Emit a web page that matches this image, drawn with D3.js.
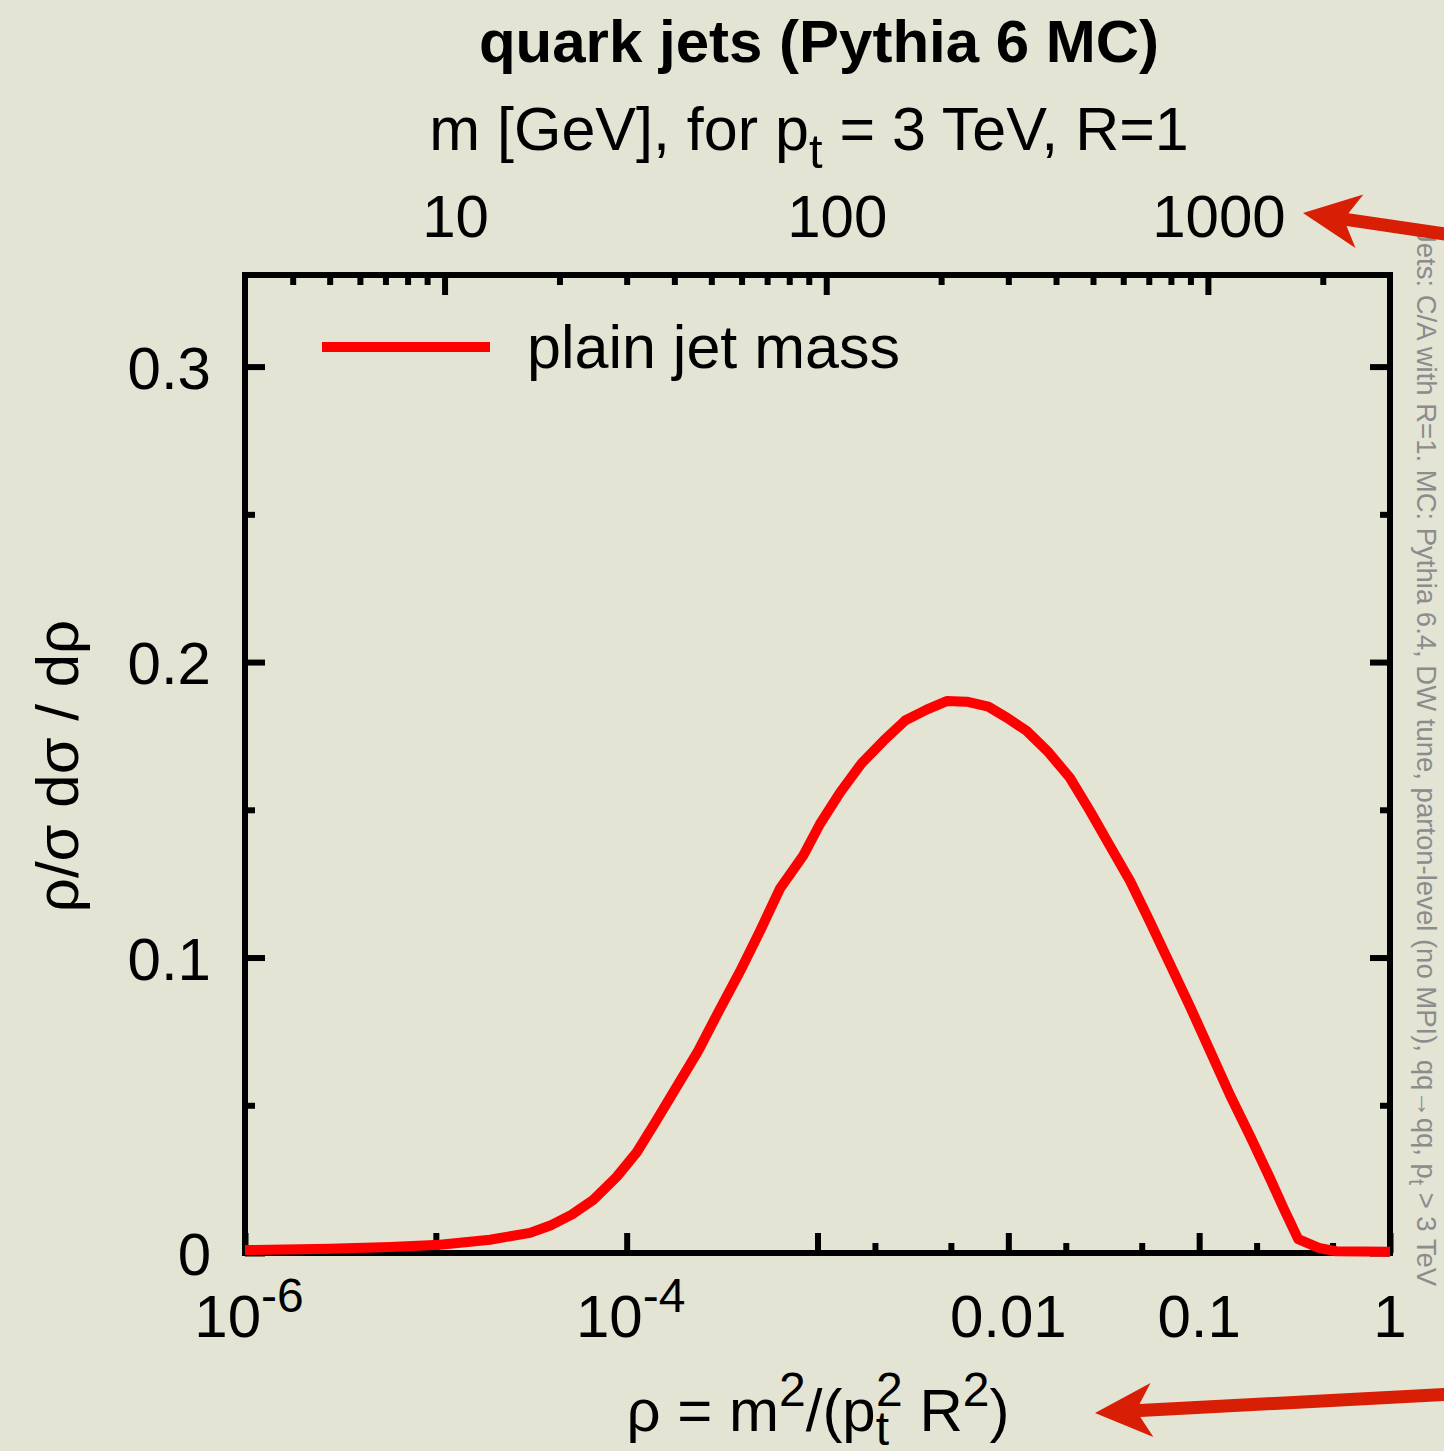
<!DOCTYPE html>
<html>
<head>
<meta charset="utf-8">
<script src="https://cdn.jsdelivr.net/npm/d3@7"></script>
<style>
  body { margin: 0; background: #e3e4d4; }
  svg { display: block; font-family: "Liberation Sans", Arial, sans-serif; }
</style>
</head>
<body>
<script>
// curve: log10(rho) of each point and rho/sigma dsigma/drho
const logRho = [
  -6.0, -5.555, -5.24, -4.978, -4.716, -4.507, -4.393, -4.288, -4.175, -4.052,
  -3.947, -3.851, -3.747, -3.625, -3.52, -3.406, -3.301, -3.196, -3.074, -2.987,
  -2.882, -2.768, -2.655, -2.541, -2.428, -2.323, -2.218, -2.105, -2.008, -1.904,
  -1.79, -1.677, -1.572, -1.467, -1.362, -1.258, -1.153, -1.048, -0.943, -0.838,
  -0.734, -0.629, -0.559, -0.481, -0.367, -0.281, 0.0
]
const rhoDist = [
  0.0010, 0.0014, 0.0020, 0.0028, 0.0045, 0.0068, 0.0095, 0.0130, 0.0180, 0.0258,
  0.0341, 0.0441, 0.0553, 0.0684, 0.0815, 0.0953, 0.1090, 0.1234, 0.1346, 0.1452,
  0.1558, 0.1658, 0.1733, 0.1802, 0.1839, 0.1868, 0.1866, 0.1849, 0.1812, 0.1767,
  0.1695, 0.1608, 0.1496, 0.1377, 0.1259, 0.1121, 0.0978, 0.0834, 0.0684, 0.0534,
  0.0397, 0.0253, 0.0153, 0.0047, 0.0016, 0.0006, 0.0004
]

// bottom axis (rho)
const rhoMajorTicks = [1e-6, 1e-5, 1e-4, 1e-3, 1e-2, 1e-1, 1]
const rhoMinorTicks = [2e-3, 5e-3, 2e-2, 5e-2, 0.2, 0.5]
const rhoLabelValues = [1e-6, 1e-4, 1e-2, 1e-1, 1]
const rhoLabelTexts = ["10^-6", "10^-4", "0.01", "0.1", "1"]

// top axis (m in GeV, pt = 3 TeV, R = 1)
const ptR = 3000
const mMajorTicks = [10, 100, 1000]
const mMinorTicks = [4, 5, 6, 7, 8, 9, 20, 30, 40, 50, 60, 70, 80, 90,
  200, 300, 400, 500, 600, 700, 800, 900, 2000]
const mLabelTexts = ["10", "100", "1000"]

// y axis
const yMajorTicks = [0, 0.1, 0.2, 0.3]
const yMinorTicks = [0.05, 0.15, 0.25]
const yLabelTexts = ["0", "0.1", "0.2", "0.3"]

const legendLabel = "plain jet mass"
const sideNote = "Jets: C/A with R=1. MC: Pythia 6.4, DW tune, parton-level (no MPI), qq\u2192qq, p_t > 3 TeV"

// layout
const W = 1444, H = 1451
const pLeft = 245, pRight = 1390, pTop = 275, pBottom = 1253
const fs = 60
const arrowColor = "#d81e05"

const svg = d3.select("body").append("svg")
  .attr("width", W)
  .attr("height", H)

svg.append("rect")
  .attr("width", W)
  .attr("height", H)
  .attr("fill", "#e3e4d4")

// scales
const x = d3.scaleLog().domain([1e-6, 1]).range([pLeft, pRight])
const xTop = d3.scaleLog().domain([Math.sqrt(1e-6) * ptR, ptR]).range([pLeft, pRight])
const y = d3.scaleLinear().domain([0, 0.331]).range([pBottom, pTop])

// ticks, drawn inwards
const tickAxis = (axis, tr, size) => {
  const g = svg.append("g")
    .attr("transform", tr)
    .call(axis.tickSize(size).tickSizeOuter(0).tickFormat(""))
  g.select(".domain").remove()
  g.selectAll("line").attr("stroke", "black").attr("stroke-width", 6)
  return g
}
tickAxis(d3.axisBottom(x).tickValues(rhoMajorTicks), `translate(0,${pBottom})`, -20)
tickAxis(d3.axisBottom(x).tickValues(rhoMinorTicks), `translate(0,${pBottom})`, -10)
tickAxis(d3.axisTop(xTop).tickValues(mMajorTicks), `translate(0,${pTop})`, -20)
tickAxis(d3.axisTop(xTop).tickValues(mMinorTicks), `translate(0,${pTop})`, -10)
tickAxis(d3.axisLeft(y).tickValues(yMajorTicks), `translate(${pLeft},0)`, -20)
tickAxis(d3.axisLeft(y).tickValues(yMinorTicks), `translate(${pLeft},0)`, -10)
tickAxis(d3.axisRight(y).tickValues(yMajorTicks), `translate(${pRight},0)`, -20)
tickAxis(d3.axisRight(y).tickValues(yMinorTicks), `translate(${pRight},0)`, -10)

// frame
svg.append("rect")
  .attr("x", pLeft)
  .attr("y", pTop)
  .attr("width", pRight - pLeft)
  .attr("height", pBottom - pTop)
  .attr("fill", "none")
  .attr("stroke", "black")
  .attr("stroke-width", 6)

// text with ^sup and _sub parts
const richText = (sel, str, size) => {
  const parts = str.split(/([\^_][^ )\/]+)/).filter(s => s !== "")
  let shift = 0
  parts.forEach(p => {
    let target = 0, t = p, small = false
    if (p[0] === "^") { target = -0.42 * size; t = p.slice(1); small = true }
    if (p[0] === "_") { target = 0.3 * size; t = p.slice(1); small = true }
    sel.append("tspan")
      .attr("dy", target - shift)
      .style("font-size", small ? size * 0.8 + "px" : null)
      .text(t)
    shift = target
  })
}

// bottom tick labels
rhoLabelValues.forEach((v, i) => {
  const t = svg.append("text")
    .attr("x", x(v) + (i < 2 ? 4 : 0))
    .attr("y", 1337)
    .attr("text-anchor", "middle")
    .style("font-size", fs + "px")
  richText(t, rhoLabelTexts[i], fs)
})

// top tick labels
mMajorTicks.forEach((v, i) => {
  svg.append("text")
    .attr("x", xTop(v) + 11)
    .attr("y", 237)
    .attr("text-anchor", "middle")
    .style("font-size", fs + "px")
    .text(mLabelTexts[i])
})

// y tick labels
yMajorTicks.forEach((v, i) => {
  svg.append("text")
    .attr("x", 211)
    .attr("y", y(v) + 22)
    .attr("text-anchor", "end")
    .style("font-size", fs + "px")
    .text(yLabelTexts[i])
})

// title and axis labels
svg.append("text")
  .attr("x", 819)
  .attr("y", 62)
  .attr("text-anchor", "middle")
  .style("font-size", fs + "px")
  .style("font-weight", "bold")
  .text("quark jets (Pythia 6 MC)")

const topLabel = svg.append("text")
  .attr("x", 809)
  .attr("y", 150)
  .attr("text-anchor", "middle")
  .style("font-size", "61px")
richText(topLabel, "m [GeV], for p_t = 3 TeV, R=1", 61)

svg.append("text")
  .attr("transform", "translate(78,766) rotate(-90)")
  .attr("text-anchor", "middle")
  .style("font-size", fs + "px")
  .text("\u03c1/\u03c3 d\u03c3 / d\u03c1")

// x label: rho = m^2/(p_t^2 R^2), with 2 stacked over t
const xLabel = svg.append("text")
  .attr("x", 818)
  .attr("y", 1431)
  .attr("text-anchor", "middle")
  .style("font-size", fs + "px")
xLabel.append("tspan").text("\u03c1 = m")
xLabel.append("tspan").attr("dy", -0.42 * fs).style("font-size", fs * 0.8 + "px").text("2")
xLabel.append("tspan").attr("dy", 0.42 * fs).text("/(p")
xLabel.append("tspan").attr("dy", 0.24 * fs).style("font-size", fs * 0.8 + "px").text("t")
xLabel.append("tspan").attr("dx", -13).attr("dy", -0.66 * fs).style("font-size", fs * 0.8 + "px").text("2")
xLabel.append("tspan").attr("dy", 0.42 * fs).text(" R")
xLabel.append("tspan").attr("dy", -0.42 * fs).style("font-size", fs * 0.8 + "px").text("2")
xLabel.append("tspan").attr("dy", 0.42 * fs).text(")")

// legend
svg.append("line")
  .attr("x1", 322)
  .attr("x2", 490)
  .attr("y1", 347)
  .attr("y2", 347)
  .attr("stroke", "red")
  .attr("stroke-width", 10)
svg.append("text")
  .attr("x", 527)
  .attr("y", 368)
  .style("font-size", "61px")
  .text(legendLabel)

// the curve
const pts = logRho.map((l, i) => [Math.pow(10, l), rhoDist[i]])
svg.append("path")
  .datum(pts)
  .attr("d", d3.line().x(d => x(d[0])).y(d => y(d[1])))
  .attr("fill", "none")
  .attr("stroke", "red")
  .attr("stroke-width", 10)
  .attr("stroke-linejoin", "round")

// side note
const noteFs = 27.5
const note = svg.append("text")
  .attr("transform", "translate(1417,229) rotate(90)")
  .style("font-size", noteFs + "px")
  .attr("fill", "#8c8c8c")
richText(note, sideNote, noteFs)

// annotation arrows
const arrow = (tip, tail) => {
  const dx = tail[0] - tip[0], dy = tail[1] - tip[1]
  const len = Math.hypot(dx, dy)
  const u = [dx / len, dy / len], n = [-u[1], u[0]]
  const L = 57, N = 45, hw = 27, sw = 6.5
  const p = (a, b) => [tip[0] + u[0] * a + n[0] * b, tip[1] + u[1] * a + n[1] * b]
  const poly = [tip, p(L, hw), p(N, sw), p(len, sw), p(len, -sw), p(N, -sw), p(L, -hw)]
  svg.append("path")
    .attr("d", "M" + poly.map(q => q.join(",")).join("L") + "Z")
    .attr("fill", arrowColor)
}
arrow([1303, 213], [1452, 235])
arrow([1095, 1413], [1452, 1394])
</script>
</body>
</html>
